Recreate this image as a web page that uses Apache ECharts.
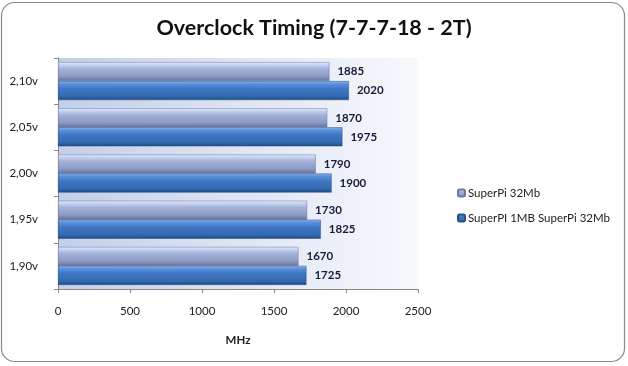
<!DOCTYPE html>
<html><head><meta charset="utf-8">
<script src="https://cdn.jsdelivr.net/npm/echarts@6/dist/echarts.min.js"></script>
<style>html,body{margin:0;padding:0;background:#fff}#c{width:628px;height:366px}</style>
</head><body><div id="c"></div>
<script>
const categories = ['1,90v', '1,95v', '2,00v', '2,05v', '2,10v'];
const superPi32 = [1670, 1730, 1790, 1870, 1885];
const superPi1MB = [1725, 1825, 1900, 1975, 2020];
const xTicks = [0, 500, 1000, 1500, 2000, 2500];
const seriesNames = ['SuperPi 32Mb', 'SuperPI 1MB SuperPi 32Mb'];

const F = 'Lato, "Open Sans", sans-serif';
const lg = (stops) => new echarts.graphic.LinearGradient(0, 0, 0, 1, stops.map((c) => ({offset: c[0], color: c[1]})));
const lightFill = lg([[0, '#e4ecfc'], [0.15, '#c4d2f0'], [0.35, '#a4b2da'], [0.75, '#8c9ac4'], [1, '#65729c']]);
const darkFill = lg([[0, '#8cb6f0'], [0.15, '#5b90da'], [0.4, '#3f76c4'], [0.8, '#336aae'], [1, '#1f4880']]);

const chart = echarts.init(document.getElementById('c'));
chart.setOption({
  animation: false,
  backgroundColor: '#fff',
  graphic: [{
    type: 'rect', shape: {x: 1.5, y: 2.5, width: 623, height: 359, r: 13},
    style: {fill: 'none', stroke: '#8a8a8a', lineWidth: 1.2}, z: -10
  }],
  title: {
    text: 'Overclock Timing (7-7-7-18 - 2T)', left: 'center', top: 12,
    textStyle: {fontFamily: F, fontSize: 21.5, fontWeight: 'bold', color: '#111'}
  },
  legend: {
    orient: 'vertical', left: 452, top: 182, itemWidth: 7, itemHeight: 7, itemGap: 13,
    data: seriesNames,
    textStyle: {fontFamily: F, fontSize: 11.5, color: '#222', padding: [0, 0, 0, -2]}
  },
  grid: {
    left: 58, right: 210, top: 58, bottom: 77, show: true, borderWidth: 0,
    backgroundColor: new echarts.graphic.LinearGradient(0, 0, 1, 0, [
      {offset: 0, color: '#c3cfe9'}, {offset: 0.6, color: '#e3e9f5'}, {offset: 1, color: '#f8f9fc'}])
  },
  xAxis: {
    type: 'value', min: xTicks[0], max: xTicks[xTicks.length - 1], interval: xTicks[1] - xTicks[0],
    name: 'MHz', nameLocation: 'middle', nameGap: 45,
    nameTextStyle: {fontFamily: F, fontSize: 11.5, fontWeight: 'bold', color: '#222'},
    axisLine: {show: true, lineStyle: {color: '#888'}},
    axisTick: {show: true, length: 4, lineStyle: {color: '#888'}},
    axisLabel: {fontFamily: F, fontSize: 11.5, color: '#222', margin: 16, formatter: (v) => String(v)},
    splitLine: {show: false}
  },
  yAxis: {
    type: 'category', data: categories,
    axisLine: {show: true, lineStyle: {color: '#888'}},
    axisTick: {show: true, length: 4, lineStyle: {color: '#888'}},
    axisLabel: {fontFamily: F, fontSize: 11.5, color: '#222', margin: 20}
  },
  series: [
    {name: seriesNames[0], type: 'bar', data: superPi32, barWidth: 19, barGap: '0%',
     itemStyle: {color: lightFill, borderColor: '#6c789e', borderWidth: 0.5},
     label: {show: true, position: 'right', distance: 8, fontFamily: F, fontSize: 11.5, fontWeight: 'bold', color: '#1a1a3a'}},
    {name: seriesNames[1], type: 'bar', data: superPi1MB, barWidth: 19, barGap: '0%',
     itemStyle: {color: darkFill, borderColor: '#2a4f86', borderWidth: 0.5},
     label: {show: true, position: 'right', distance: 8, fontFamily: F, fontSize: 11.5, fontWeight: 'bold', color: '#1a1a3a'}}
  ]
});
</script></body></html>
